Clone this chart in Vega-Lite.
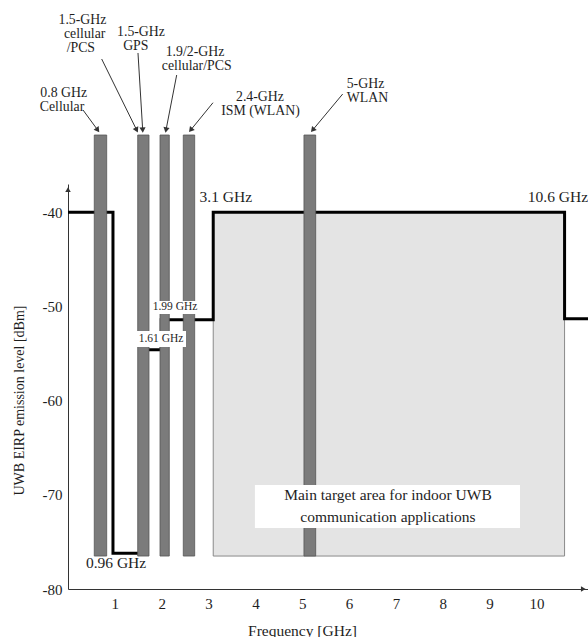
{
  "$schema": "https://vega.github.io/schema/vega-lite/v6.json",
  "width": 520,
  "height": 405,
  "autosize": {"type": "none"},
  "padding": {"left": 68, "top": 184, "right": 0, "bottom": 48},
  "background": "white",
  "config": {
    "view": {"stroke": null},
    "font": "Liberation Serif",
    "text": {"font": "Liberation Serif", "color": "#1e1e1e"}
  },
  "datasets": {
    "mask": [
      {"x": 0, "y": -40},
      {"x": 0.96, "y": -76.2},
      {"x": 1.61, "y": -54.6},
      {"x": 1.99, "y": -51.4},
      {"x": 3.1, "y": -40},
      {"x": 10.6, "y": -51.3},
      {"x": 11.1, "y": -51.3}
    ],
    "zone": [
      {"x": 3.1, "x2": 10.6, "y": -76.5, "y2": -40}
    ],
    "bands": [
      {"service": "0.8 GHz cellular", "x": 0.561, "x2": 0.826, "y": -76.5, "y2": -31.8},
      {"service": "1.5 GHz cellular/PCS, GPS", "x": 1.488, "x2": 1.729, "y": -76.5, "y2": -31.8},
      {"service": "1.9/2 GHz cellular/PCS", "x": 1.964, "x2": 2.162, "y": -76.5, "y2": -31.8},
      {"service": "2.4 GHz ISM", "x": 2.461, "x2": 2.704, "y": -76.5, "y2": -31.8},
      {"service": "5 GHz WLAN", "x": 5.037, "x2": 5.287, "y": -76.5, "y2": -31.8}
    ],
    "boxes": [
      {"x": 3.99, "x2": 9.648, "y": -68.95, "y2": -73.52},
      {"x": 1.772, "x2": 2.796, "y": -49.42, "y2": -50.8},
      {"x": 1.451, "x2": 2.519, "y": -52.61, "y2": -54.3}
    ],
    "arrows": [
      {"x": 0.32, "y": -29.14, "x2": 0.634, "y2": -31.27, "heading": 144},
      {"x": 0.719, "y": -23.73, "x2": 1.466, "y2": -31.27, "heading": 154},
      {"x": 1.494, "y": -23.09, "x2": 1.594, "y2": -31.27, "heading": 176.5},
      {"x": 2.32, "y": -25.43, "x2": 2.092, "y2": -31.27, "heading": 191},
      {"x": 3.095, "y": -28.37, "x2": 2.619, "y2": -31.27, "heading": 219},
      {"x": 5.863, "y": -27.45, "x2": 5.223, "y2": -31.27, "heading": 220}
    ],
    "axisHeads": [
      {"x": 0, "y": -37.6, "heading": 0},
      {"x": 11.0, "y": -80, "heading": 90}
    ],
    "serviceLabels": [
      {"x": -0.092, "y": -27.34, "t": "0.8 GHz"},
      {"x": -0.128, "y": -28.83, "t": "Cellular"},
      {"x": 0.309, "y": -19.59, "t": "1.5-GHz"},
      {"x": 0.356, "y": -21.08, "t": "cellular"},
      {"x": 0.274, "y": -22.56, "t": "/PCS"},
      {"x": 1.558, "y": -20.86, "t": "1.5-GHz"},
      {"x": 1.447, "y": -22.35, "t": "GPS"},
      {"x": 2.711, "y": -22.99, "t": "1.9/2-GHz"},
      {"x": 2.747, "y": -24.47, "t": "cellular/PCS"},
      {"x": 4.098, "y": -27.76, "t": "2.4-GHz"},
      {"x": 4.11, "y": -29.25, "t": "ISM (WLAN)"},
      {"x": 6.35, "y": -26.38, "t": "5-GHz"},
      {"x": 6.393, "y": -27.87, "t": "WLAN"}
    ],
    "labels": [
      {"x": 3.368, "y": -38.35, "t": "3.1 GHz"},
      {"x": 10.459, "y": -38.35, "t": "10.6 GHz"},
      {"x": 1.025, "y": -77.27, "t": "0.96 GHz"},
      {"x": 6.83, "y": -70.01, "t": "Main target area for indoor UWB"},
      {"x": 6.83, "y": -72.32, "t": "communication applications"}
    ],
    "smallLabels": [
      {"x": 2.284, "y": -50.09, "t": "1.99 GHz"},
      {"x": 1.985, "y": -53.49, "t": "1.61 GHz"}
    ]
  },
  "encoding": {
    "x": {
      "field": "x",
      "type": "quantitative",
      "scale": {"domain": [0, 11.1], "nice": false, "zero": false},
      "axis": {
        "values": [1, 2, 3, 4, 5, 6, 7, 8, 9, 10],
        "ticks": false,
        "grid": false,
        "domainColor": "#333333",
        "domainWidth": 1,
        "labelFont": "Liberation Serif",
        "labelFontSize": 15,
        "labelColor": "#1e1e1e",
        "labelPadding": 7,
        "labelFlush": false,
        "title": "Frequency [GHz]",
        "titleFont": "Liberation Serif",
        "titleFontSize": 15.5,
        "titleFontWeight": "normal",
        "titleColor": "#1e1e1e",
        "titleX": 234,
        "titleY": 41,
        "titleAlign": "center",
        "titleBaseline": "middle"
      }
    },
    "y": {
      "field": "y",
      "type": "quantitative",
      "scale": {"domain": [-80, -37], "nice": false, "zero": false},
      "axis": {
        "values": [-80, -70, -60, -50, -40],
        "labelExpr": "'-' + abs(datum.value)",
        "ticks": false,
        "grid": false,
        "domainColor": "#333333",
        "domainWidth": 1,
        "labelFont": "Liberation Serif",
        "labelFontSize": 15,
        "labelColor": "#1e1e1e",
        "labelPadding": 6,
        "title": "UWB EIRP emission level [dBm]",
        "titleFont": "Liberation Serif",
        "titleFontSize": 14,
        "titleFontWeight": "normal",
        "titleColor": "#1e1e1e",
        "titleX": -49,
        "titleY": 216,
        "titleAlign": "center",
        "titleBaseline": "middle"
      }
    }
  },
  "layer": [
    {
      "data": {"name": "zone"},
      "mark": {"type": "rect", "fill": "#e4e4e4", "stroke": "#8a8a8a", "strokeWidth": 1},
      "encoding": {
        "x2": {"field": "x2"},
        "y2": {"field": "y2"}
      }
    },
    {
      "data": {"name": "mask"},
      "mark": {"type": "line", "interpolate": "step-after", "color": "#000000", "strokeWidth": 3},
      "encoding": {}
    },
    {
      "data": {"name": "bands"},
      "mark": {"type": "rect", "fill": "#7b7b7b", "stroke": "#555555", "strokeWidth": 0.8},
      "encoding": {
        "x2": {"field": "x2"},
        "y2": {"field": "y2"}
      }
    },
    {
      "data": {"name": "boxes"},
      "mark": {"type": "rect", "fill": "#ffffff"},
      "encoding": {
        "x2": {"field": "x2"},
        "y2": {"field": "y2"}
      }
    },
    {
      "data": {"name": "arrows"},
      "mark": {"type": "rule", "color": "#333333", "strokeWidth": 1},
      "encoding": {
        "x2": {"field": "x2"},
        "y2": {"field": "y2"}
      }
    },
    {
      "data": {"name": "arrows"},
      "mark": {"type": "point", "shape": "triangle-up", "filled": true, "color": "#333333", "size": 38, "opacity": 1},
      "encoding": {
        "x": {"field": "x2", "type": "quantitative"},
        "y": {"field": "y2", "type": "quantitative"},
        "angle": {"field": "heading", "type": "quantitative", "scale": null}
      }
    },
    {
      "data": {"name": "axisHeads"},
      "mark": {"type": "point", "shape": "triangle-up", "filled": true, "color": "#333333", "size": 30, "opacity": 1},
      "encoding": {
        "angle": {"field": "heading", "type": "quantitative", "scale": null}
      }
    },
    {
      "data": {"name": "serviceLabels"},
      "mark": {"type": "text", "fontSize": 13.8, "align": "center", "baseline": "middle"},
      "encoding": {
        "text": {"field": "t"}
      }
    },
    {
      "data": {"name": "labels"},
      "mark": {"type": "text", "fontSize": 15.5, "align": "center", "baseline": "middle"},
      "encoding": {
        "text": {"field": "t"}
      }
    },
    {
      "data": {"name": "smallLabels"},
      "mark": {"type": "text", "fontSize": 11.5, "align": "center", "baseline": "middle"},
      "encoding": {
        "text": {"field": "t"}
      }
    }
  ]
}
